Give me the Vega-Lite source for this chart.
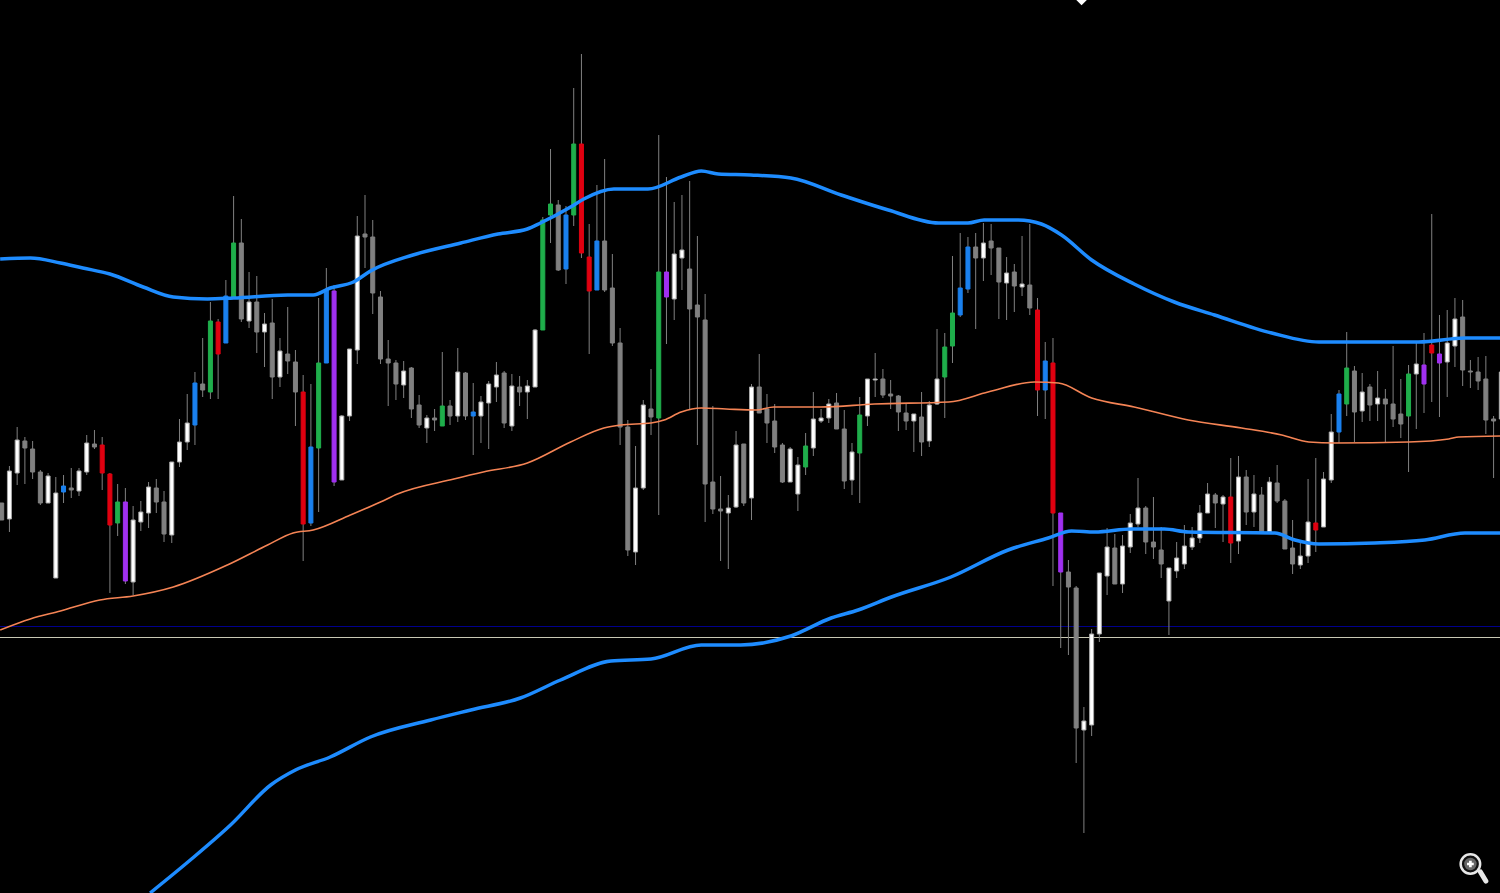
{"$schema":"https://vega.github.io/schema/vega-lite/v6.json","width":1500,"height":893,"padding":0,"autosize":{"type":"none"},"background":"#000000","config":{"view":{"stroke":null}},
"datasets":{
"candles":[
{"i":0,"h":390,"t":390,"b":373,"l":373,"k":"grey"},{"i":1,"h":427,"t":422,"b":374,"l":361,"k":"white"},{"i":2,"h":466,"t":453,"b":420,"l":408,"k":"white"},{"i":3,"h":456,"t":452,"b":445,"l":409,"k":"grey"},{"i":4,"h":452,"t":444,"b":421,"l":414,"k":"grey"},{"i":5,"h":423,"t":421,"b":390,"l":388,"k":"grey"},{"i":6,"h":420,"t":417,"b":390,"l":390,"k":"white"},{"i":7,"h":416,"t":400,"b":315,"l":315,"k":"white"},{"i":8,"h":418,"t":407,"b":401,"l":390,"k":"blue"},{"i":9,"h":425,"t":405,"b":403,"l":395,"k":"grey"},
{"i":10,"h":425,"t":422,"b":402,"l":397,"k":"white"},{"i":11,"h":458,"t":450,"b":421,"l":418,"k":"white"},{"i":12,"h":463,"t":449,"b":446,"l":444,"k":"grey"},{"i":13,"h":456,"t":448,"b":420,"l":403,"k":"red"},{"i":14,"h":420,"t":419,"b":368,"l":300,"k":"red"},{"i":15,"h":409,"t":391,"b":370,"l":357,"k":"green"},{"i":16,"h":405,"t":391,"b":312,"l":309,"k":"purple"},{"i":17,"h":387,"t":373,"b":311,"l":298,"k":"white"},{"i":18,"h":392,"t":381,"b":371,"l":362,"k":"white"},{"i":19,"h":411,"t":406,"b":380,"l":365,"k":"white"},
{"i":20,"h":414,"t":405,"b":391,"l":380,"k":"grey"},{"i":21,"h":402,"t":391,"b":359,"l":351,"k":"grey"},{"i":22,"h":431,"t":431,"b":358,"l":350,"k":"white"},{"i":23,"h":474,"t":451,"b":431,"l":426,"k":"white"},{"i":24,"h":499,"t":470,"b":451,"l":443,"k":"white"},{"i":25,"h":521,"t":510,"b":468,"l":448,"k":"blue"},{"i":26,"h":555,"t":509,"b":503,"l":496,"k":"grey"},{"i":27,"h":591,"t":572,"b":501,"l":494,"k":"green"},{"i":28,"h":574,"t":571,"b":539,"l":494,"k":"red"},{"i":29,"h":613,"t":597,"b":550,"l":550,"k":"blue"},
{"i":30,"h":697,"t":650,"b":596,"l":596,"k":"green"},{"i":31,"h":674,"t":650,"b":574,"l":571,"k":"grey"},{"i":32,"h":621,"t":591,"b":572,"l":565,"k":"white"},{"i":33,"h":617,"t":591,"b":561,"l":540,"k":"grey"},{"i":34,"h":580,"t":569,"b":561,"l":526,"k":"white"},{"i":35,"h":594,"t":570,"b":516,"l":494,"k":"grey"},{"i":36,"h":555,"t":542,"b":516,"l":506,"k":"white"},{"i":37,"h":586,"t":539,"b":532,"l":519,"k":"grey"},{"i":38,"h":543,"t":531,"b":501,"l":467,"k":"grey"},{"i":39,"h":518,"t":501,"b":369,"l":332,"k":"red"},
{"i":40,"h":509,"t":446,"b":370,"l":367,"k":"blue"},{"i":41,"h":595,"t":530,"b":445,"l":381,"k":"green"},{"i":42,"h":625,"t":603,"b":530,"l":530,"k":"blue"},{"i":43,"h":608,"t":602,"b":411,"l":407,"k":"purple"},{"i":44,"h":478,"t":477,"b":413,"l":413,"k":"white"},{"i":45,"h":544,"t":544,"b":477,"l":472,"k":"white"},{"i":46,"h":677,"t":657,"b":543,"l":529,"k":"white"},{"i":47,"h":698,"t":659,"b":656,"l":625,"k":"grey"},{"i":48,"h":673,"t":656,"b":600,"l":579,"k":"grey"},{"i":49,"h":602,"t":596,"b":534,"l":529,"k":"grey"},
{"i":50,"h":553,"t":534,"b":530,"l":487,"k":"grey"},{"i":51,"h":533,"t":530,"b":509,"l":493,"k":"grey"},{"i":52,"h":532,"t":522,"b":508,"l":495,"k":"white"},{"i":53,"h":526,"t":525,"b":484,"l":475,"k":"grey"},{"i":54,"h":498,"t":488,"b":468,"l":465,"k":"grey"},{"i":55,"h":478,"t":475,"b":465,"l":450,"k":"white"},{"i":56,"h":484,"t":475,"b":473,"l":462,"k":"grey"},{"i":57,"h":541,"t":487,"b":467,"l":467,"k":"green"},{"i":58,"h":493,"t":487,"b":477,"l":468,"k":"grey"},{"i":59,"h":545,"t":521,"b":477,"l":471,"k":"white"},
{"i":60,"h":521,"t":520,"b":477,"l":473,"k":"grey"},{"i":61,"h":510,"t":481,"b":477,"l":438,"k":"blue"},{"i":62,"h":497,"t":491,"b":477,"l":450,"k":"white"},{"i":63,"h":512,"t":509,"b":490,"l":444,"k":"white"},{"i":64,"h":531,"t":518,"b":506,"l":491,"k":"white"},{"i":65,"h":522,"t":520,"b":470,"l":465,"k":"grey"},{"i":66,"h":519,"t":507,"b":467,"l":462,"k":"white"},{"i":67,"h":517,"t":506,"b":501,"l":487,"k":"grey"},{"i":68,"h":513,"t":507,"b":501,"l":474,"k":"white"},{"i":69,"h":564,"t":563,"b":506,"l":506,"k":"white"},
{"i":70,"h":676,"t":673,"b":563,"l":563,"k":"green"},{"i":71,"h":744,"t":689,"b":678,"l":650,"k":"green"},{"i":72,"h":693,"t":688,"b":623,"l":622,"k":"grey"},{"i":73,"h":687,"t":678,"b":624,"l":609,"k":"blue"},{"i":74,"h":805,"t":749,"b":678,"l":667,"k":"green"},{"i":75,"h":839,"t":749,"b":640,"l":635,"k":"red"},{"i":76,"h":669,"t":636,"b":602,"l":539,"k":"red"},{"i":77,"h":708,"t":652,"b":603,"l":603,"k":"blue"},{"i":78,"h":734,"t":652,"b":603,"l":601,"k":"grey"},{"i":79,"h":639,"t":605,"b":550,"l":547,"k":"grey"},
{"i":80,"h":565,"t":550,"b":466,"l":448,"k":"grey"},{"i":81,"h":473,"t":466,"b":343,"l":337,"k":"grey"},{"i":82,"h":447,"t":405,"b":341,"l":328,"k":"white"},{"i":83,"h":493,"t":488,"b":405,"l":403,"k":"white"},{"i":84,"h":524,"t":484,"b":476,"l":458,"k":"grey"},{"i":85,"h":758,"t":621,"b":475,"l":378,"k":"green"},{"i":86,"h":716,"t":621,"b":596,"l":549,"k":"purple"},{"i":87,"h":691,"t":639,"b":594,"l":573,"k":"white"},{"i":88,"h":698,"t":643,"b":635,"l":603,"k":"white"},{"i":89,"h":712,"t":624,"b":584,"l":483,"k":"grey"},
{"i":90,"h":657,"t":588,"b":576,"l":448,"k":"grey"},{"i":91,"h":599,"t":573,"b":409,"l":371,"k":"grey"},{"i":92,"h":487,"t":411,"b":384,"l":379,"k":"grey"},{"i":93,"h":417,"t":384,"b":382,"l":332,"k":"grey"},{"i":94,"h":398,"t":385,"b":380,"l":324,"k":"white"},{"i":95,"h":462,"t":448,"b":386,"l":385,"k":"white"},{"i":96,"h":449,"t":449,"b":390,"l":387,"k":"grey"},{"i":97,"h":509,"t":506,"b":395,"l":373,"k":"white"},{"i":98,"h":539,"t":506,"b":480,"l":480,"k":"grey"},{"i":99,"h":499,"t":484,"b":470,"l":450,"k":"grey"},
{"i":100,"h":489,"t":472,"b":446,"l":440,"k":"grey"},{"i":101,"h":450,"t":448,"b":411,"l":410,"k":"grey"},{"i":102,"h":446,"t":444,"b":411,"l":411,"k":"white"},{"i":103,"h":436,"t":428,"b":399,"l":382,"k":"white"},{"i":104,"h":460,"t":447,"b":426,"l":418,"k":"green"},{"i":105,"h":501,"t":474,"b":445,"l":437,"k":"white"},{"i":106,"h":484,"t":475,"b":472,"l":470,"k":"white"},{"i":107,"h":494,"t":489,"b":475,"l":470,"k":"white"},{"i":108,"h":500,"t":490,"b":464,"l":464,"k":"grey"},{"i":109,"h":483,"t":464,"b":412,"l":404,"k":"grey"},
{"i":110,"h":450,"t":441,"b":413,"l":398,"k":"white"},{"i":111,"h":496,"t":478,"b":440,"l":390,"k":"green"},{"i":112,"h":514,"t":514,"b":477,"l":467,"k":"white"},{"i":113,"h":540,"t":514,"b":513,"l":496,"k":"white"},{"i":114,"h":524,"t":514,"b":498,"l":495,"k":"grey"},{"i":115,"h":513,"t":499,"b":497,"l":484,"k":"grey"},{"i":116,"h":498,"t":497,"b":481,"l":462,"k":"grey"},{"i":117,"h":490,"t":480,"b":472,"l":463,"k":"grey"},{"i":118,"h":479,"t":479,"b":472,"l":441,"k":"white"},{"i":119,"h":501,"t":476,"b":451,"l":437,"k":"grey"},
{"i":120,"h":492,"t":488,"b":452,"l":446,"k":"white"},{"i":121,"h":564,"t":514,"b":489,"l":488,"k":"white"},{"i":122,"h":560,"t":546,"b":516,"l":475,"k":"green"},{"i":123,"h":637,"t":580,"b":547,"l":530,"k":"green"},{"i":124,"h":660,"t":605,"b":578,"l":576,"k":"blue"},{"i":125,"h":656,"t":646,"b":604,"l":600,"k":"blue"},{"i":126,"h":660,"t":646,"b":635,"l":564,"k":"grey"},{"i":127,"h":670,"t":650,"b":635,"l":612,"k":"white"},{"i":128,"h":669,"t":652,"b":645,"l":618,"k":"grey"},{"i":129,"h":645,"t":645,"b":611,"l":574,"k":"grey"},
{"i":130,"h":636,"t":620,"b":610,"l":573,"k":"white"},{"i":131,"h":629,"t":621,"b":607,"l":581,"k":"grey"},{"i":132,"h":657,"t":609,"b":606,"l":597,"k":"white"},{"i":133,"h":669,"t":608,"b":585,"l":578,"k":"grey"},{"i":134,"h":595,"t":583,"b":503,"l":477,"k":"red"},{"i":135,"h":551,"t":532,"b":503,"l":474,"k":"blue"},{"i":136,"h":555,"t":530,"b":380,"l":307,"k":"red"},{"i":137,"h":380,"t":380,"b":321,"l":245,"k":"purple"},{"i":138,"h":333,"t":321,"b":306,"l":238,"k":"grey"},{"i":139,"h":307,"t":305,"b":165,"l":130,"k":"grey"},
{"i":140,"h":186,"t":172,"b":163,"l":60,"k":"white"},{"i":141,"h":264,"t":259,"b":168,"l":157,"k":"white"},{"i":142,"h":320,"t":320,"b":259,"l":251,"k":"white"},{"i":143,"h":365,"t":346,"b":317,"l":298,"k":"white"},{"i":144,"h":359,"t":345,"b":309,"l":309,"k":"grey"},{"i":145,"h":358,"t":347,"b":309,"l":300,"k":"white"},{"i":146,"h":379,"t":370,"b":346,"l":340,"k":"white"},{"i":147,"h":415,"t":385,"b":369,"l":366,"k":"white"},{"i":148,"h":387,"t":385,"b":351,"l":339,"k":"grey"},{"i":149,"h":396,"t":351,"b":346,"l":334,"k":"grey"},
{"i":150,"h":366,"t":343,"b":329,"l":315,"k":"grey"},{"i":151,"h":325,"t":325,"b":292,"l":258,"k":"white"},{"i":152,"h":351,"t":335,"b":322,"l":315,"k":"white"},{"i":153,"h":368,"t":347,"b":329,"l":324,"k":"white"},{"i":154,"h":366,"t":355,"b":346,"l":343,"k":"white"},{"i":155,"h":388,"t":380,"b":355,"l":350,"k":"white"},{"i":156,"h":410,"t":399,"b":380,"l":380,"k":"white"},{"i":157,"h":400,"t":398,"b":390,"l":365,"k":"grey"},{"i":158,"h":398,"t":396,"b":389,"l":351,"k":"white"},{"i":159,"h":435,"t":396,"b":350,"l":330,"k":"red"},
{"i":160,"h":437,"t":416,"b":352,"l":339,"k":"white"},{"i":161,"h":423,"t":416,"b":381,"l":368,"k":"grey"},{"i":162,"h":418,"t":399,"b":381,"l":366,"k":"white"},{"i":163,"h":406,"t":398,"b":361,"l":361,"k":"grey"},{"i":164,"h":416,"t":411,"b":361,"l":361,"k":"white"},{"i":165,"h":428,"t":410,"b":392,"l":390,"k":"grey"},{"i":166,"h":394,"t":392,"b":344,"l":344,"k":"grey"},{"i":167,"h":373,"t":345,"b":329,"l":319,"k":"grey"},{"i":168,"h":350,"t":337,"b":328,"l":324,"k":"white"},{"i":169,"h":414,"t":371,"b":337,"l":330,"k":"white"},
{"i":170,"h":435,"t":370,"b":363,"l":341,"k":"red"},{"i":171,"h":421,"t":414,"b":366,"l":366,"k":"white"},{"i":172,"h":479,"t":461,"b":413,"l":410,"k":"white"},{"i":173,"h":503,"t":499,"b":461,"l":450,"k":"blue"},{"i":174,"h":561,"t":525,"b":489,"l":477,"k":"green"},{"i":175,"h":527,"t":522,"b":481,"l":451,"k":"grey"},{"i":176,"h":520,"t":501,"b":482,"l":471,"k":"white"},{"i":177,"h":509,"t":506,"b":488,"l":472,"k":"grey"},{"i":178,"h":522,"t":495,"b":489,"l":472,"k":"white"},{"i":179,"h":504,"t":494,"b":489,"l":451,"k":"grey"},
{"i":180,"h":547,"t":489,"b":474,"l":466,"k":"grey"},{"i":181,"h":514,"t":479,"b":469,"l":455,"k":"grey"},{"i":182,"h":528,"t":519,"b":477,"l":421,"k":"green"},{"i":183,"h":550,"t":529,"b":519,"l":464,"k":"white"},{"i":184,"h":560,"t":528,"b":509,"l":480,"k":"purple"},{"i":185,"h":679,"t":548,"b":540,"l":491,"k":"red"},{"i":186,"h":578,"t":539,"b":530,"l":476,"k":"purple"},{"i":187,"h":583,"t":550,"b":531,"l":496,"k":"white"},{"i":188,"h":595,"t":574,"b":547,"l":526,"k":"white"},{"i":189,"h":593,"t":576,"b":523,"l":507,"k":"grey"},
{"i":190,"h":533,"t":522,"b":521,"l":505,"k":"grey"},{"i":191,"h":536,"t":521,"b":512,"l":503,"k":"grey"},{"i":192,"h":537,"t":514,"b":473,"l":459,"k":"grey"},{"i":193,"h":477,"t":474,"b":472,"l":415,"k":"grey"},{"i":194,"h":533,"t":521,"b":474,"l":463,"k":"white"}
],
"bands":[
{"s":"upper","i":-0.2,"v":634},{"s":"upper","i":3.7,"v":635},{"s":"upper","i":7.6,"v":630},{"s":"upper","i":10.5,"v":625},{"s":"upper","i":14,"v":619},{"s":"upper","i":18.3,"v":606},{"s":"upper","i":22.2,"v":596},{"s":"upper","i":26.6,"v":594},{"s":"upper","i":30,"v":595},{"s":"upper","i":37,"v":598},{"s":"upper","i":40.3,"v":598},{"s":"upper","i":42.5,"v":605},{"s":"upper","i":45.5,"v":611},{"s":"upper","i":47.7,"v":622},{"s":"upper","i":53.2,"v":638},{"s":"upper","i":59.4,"v":650},{"s":"upper","i":64.2,"v":659},{"s":"upper","i":68,"v":664},{"s":"upper","i":69.7,"v":670},{"s":"upper","i":73.6,"v":686},{"s":"upper","i":75.3,"v":694},{"s":"upper","i":79.2,"v":704},{"s":"upper","i":83.6,"v":704},{"s":"upper","i":87.9,"v":716},{"s":"upper","i":90.5,"v":722},{"s":"upper","i":92.7,"v":719},{"s":"upper","i":96.9,"v":718},{"s":"upper","i":102.1,"v":715},{"s":"upper","i":108.6,"v":698},{"s":"upper","i":114.7,"v":683},{"s":"upper","i":121.2,"v":670},{"s":"upper","i":125,"v":670},{"s":"upper","i":127.1,"v":673},{"s":"upper","i":131.5,"v":673},{"s":"upper","i":134.5,"v":669},{"s":"upper","i":137.1,"v":658},{"s":"upper","i":141,"v":633},{"s":"upper","i":146.5,"v":609},{"s":"upper","i":151.7,"v":591},{"s":"upper","i":156.9,"v":578},{"s":"upper","i":164.3,"v":560},{"s":"upper","i":170.4,"v":551},{"s":"upper","i":176.3,"v":551},{"s":"upper","i":183.3,"v":551},{"s":"upper","i":189.3,"v":555},{"s":"upper","i":194.1,"v":555},
{"s":"lower","i":19.2,"v":0},{"s":"lower","i":24.4,"v":33},{"s":"lower","i":29.6,"v":68},{"s":"lower","i":34.8,"v":108},{"s":"lower","i":38,"v":123},{"s":"lower","i":42.5,"v":136},{"s":"lower","i":47.7,"v":156},{"s":"lower","i":55.5,"v":173},{"s":"lower","i":60.7,"v":183},{"s":"lower","i":67.1,"v":195},{"s":"lower","i":72.3,"v":213},{"s":"lower","i":78.8,"v":232},{"s":"lower","i":84,"v":234},{"s":"lower","i":90.5,"v":248},{"s":"lower","i":95.6,"v":248},{"s":"lower","i":102.1,"v":257},{"s":"lower","i":107.3,"v":275},{"s":"lower","i":110.8,"v":283},{"s":"lower","i":115.1,"v":296},{"s":"lower","i":122.8,"v":316},{"s":"lower","i":130.2,"v":343},{"s":"lower","i":135.4,"v":355},{"s":"lower","i":138.4,"v":362},{"s":"lower","i":141.4,"v":361},{"s":"lower","i":146.2,"v":364},{"s":"lower","i":150.4,"v":364},{"s":"lower","i":153.5,"v":361},{"s":"lower","i":164.7,"v":360},{"s":"lower","i":167.3,"v":353},{"s":"lower","i":170.4,"v":349},{"s":"lower","i":177.6,"v":350},{"s":"lower","i":184.1,"v":353},{"s":"lower","i":189.3,"v":360},{"s":"lower","i":194.1,"v":360}
],
"mid":[
{"i":-0.2,"v":263},{"i":3.7,"v":274},{"i":7.6,"v":282},{"i":12.7,"v":293},{"i":17,"v":297},{"i":22.2,"v":306},{"i":29.2,"v":328},{"i":34.4,"v":348},{"i":37.7,"v":360},{"i":40.3,"v":363},{"i":45.1,"v":378},{"i":49,"v":391},{"i":51.2,"v":399},{"i":58.5,"v":414},{"i":62.3,"v":421},{"i":68,"v":430},{"i":73.6,"v":451},{"i":77.9,"v":465},{"i":80.1,"v":468},{"i":84,"v":470},{"i":85.7,"v":473},{"i":87.9,"v":481},{"i":90.5,"v":485},{"i":93.7,"v":484},{"i":97.6,"v":483},{"i":99.9,"v":486},{"i":106,"v":486},{"i":112.9,"v":489},{"i":122.5,"v":491},{"i":127.6,"v":501},{"i":133.6,"v":511},{"i":136.7,"v":510},{"i":141,"v":495},{"i":146.5,"v":486},{"i":153.5,"v":473},{"i":160.4,"v":465},{"i":165.6,"v":458},{"i":169.1,"v":451},{"i":172.5,"v":450},{"i":182,"v":451},{"i":187.2,"v":454},{"i":188.5,"v":456},{"i":194.1,"v":457}
],
"levels":[{"v":266.5,"c":"#00008c"},{"v":255.5,"c":"#c8c8b4"}],
"handle":[{"i":191.3,"v":21},{"i":192.0,"v":12}]
},
"layer":[
{"data":{"name":"levels"},"mark":{"type":"rule","strokeWidth":1},"encoding":{"y":{"field":"v","type":"quantitative","axis":null,"scale":{"domain":[0,893],"nice":false,"zero":false}},"color":{"field":"c","type":"nominal","scale":null,"legend":null}}},
{"data":{"name":"candles"},"mark":{"type":"rule","strokeWidth":1,"color":"#808080"},"encoding":{"x":{"field":"i","type":"quantitative","axis":null,"scale":{"domain":[-0.22,193.83],"nice":false,"zero":false,"padding":0}},"y":{"field":"h","type":"quantitative","axis":null,"scale":{"domain":[0,893],"nice":false,"zero":false}},"y2":{"field":"l"}}},
{"data":{"name":"candles"},"mark":{"type":"bar","size":4,"orient":"vertical","strokeWidth":1},"encoding":{"x":{"field":"i","type":"quantitative","axis":null,"scale":{"domain":[-0.22,193.83],"nice":false,"zero":false,"padding":0}},"y":{"field":"t","type":"quantitative","axis":null,"scale":{"domain":[0,893],"nice":false,"zero":false}},"y2":{"field":"b"},"fill":{"field":"k","type":"nominal","legend":null,"scale":{"domain":["white","grey","green","red","blue","purple"],"range":["#ffffff","#808080","#1fae4b","#e00010","#1a80ee","#a030f0"]}},"stroke":{"field":"k","type":"nominal","legend":null,"scale":{"domain":["white","grey","green","red","blue","purple"],"range":["#a8a8a8","#808080","#1fae4b","#e00010","#1a80ee","#a030f0"]}}}},
{"data":{"name":"mid"},"mark":{"type":"line","strokeWidth":1.6,"color":"#f58455","clip":true,"interpolate":"monotone"},"encoding":{"x":{"field":"i","type":"quantitative","axis":null,"scale":{"domain":[-0.22,193.83],"nice":false,"zero":false,"padding":0}},"y":{"field":"v","type":"quantitative","axis":null,"scale":{"domain":[0,893],"nice":false,"zero":false}}}},
{"data":{"name":"bands"},"mark":{"type":"line","strokeWidth":3.5,"color":"#1e8cff","clip":true,"interpolate":"monotone"},"encoding":{"x":{"field":"i","type":"quantitative","axis":null,"scale":{"domain":[-0.22,193.83],"nice":false,"zero":false,"padding":0}},"y":{"field":"v","type":"quantitative","axis":null,"scale":{"domain":[0,893],"nice":false,"zero":false}},"detail":{"field":"s","type":"nominal"}}},
{"data":{"values":[{"i":139.7,"v":893}]},"mark":{"type":"point","shape":"diamond","filled":true,"color":"#ffffff","size":110,"opacity":1},"encoding":{"x":{"field":"i","type":"quantitative","axis":null,"scale":{"domain":[-0.22,193.83],"nice":false,"zero":false,"padding":0}},"y":{"field":"v","type":"quantitative","axis":null,"scale":{"domain":[0,893],"nice":false,"zero":false}}}},
{"data":{"name":"handle"},"mark":{"type":"line","strokeWidth":5,"color":"#e8e8e8","strokeCap":"round"},"encoding":{"x":{"field":"i","type":"quantitative","axis":null,"scale":{"domain":[-0.22,193.83],"nice":false,"zero":false,"padding":0}},"y":{"field":"v","type":"quantitative","axis":null,"scale":{"domain":[0,893],"nice":false,"zero":false}}}},
{"data":{"values":[{"i":190.0,"v":29}]},"mark":{"type":"point","shape":"circle","fill":"#111111","stroke":"#e8e8e8","strokeWidth":2.5,"size":380,"opacity":1,"fillOpacity":1},"encoding":{"x":{"field":"i","type":"quantitative","axis":null,"scale":{"domain":[-0.22,193.83],"nice":false,"zero":false,"padding":0}},"y":{"field":"v","type":"quantitative","axis":null,"scale":{"domain":[0,893],"nice":false,"zero":false}}}},
{"data":{"values":[{"i":190.0,"v":29}]},"mark":{"type":"point","shape":"circle","filled":true,"color":"#666666","size":154,"opacity":1},"encoding":{"x":{"field":"i","type":"quantitative","axis":null,"scale":{"domain":[-0.22,193.83],"nice":false,"zero":false,"padding":0}},"y":{"field":"v","type":"quantitative","axis":null,"scale":{"domain":[0,893],"nice":false,"zero":false}}}},
{"data":{"values":[{"i":190.0,"v":29}]},"mark":{"type":"point","shape":"cross","filled":true,"color":"#ffffff","size":45,"opacity":1},"encoding":{"x":{"field":"i","type":"quantitative","axis":null,"scale":{"domain":[-0.22,193.83],"nice":false,"zero":false,"padding":0}},"y":{"field":"v","type":"quantitative","axis":null,"scale":{"domain":[0,893],"nice":false,"zero":false}}}}
]}
